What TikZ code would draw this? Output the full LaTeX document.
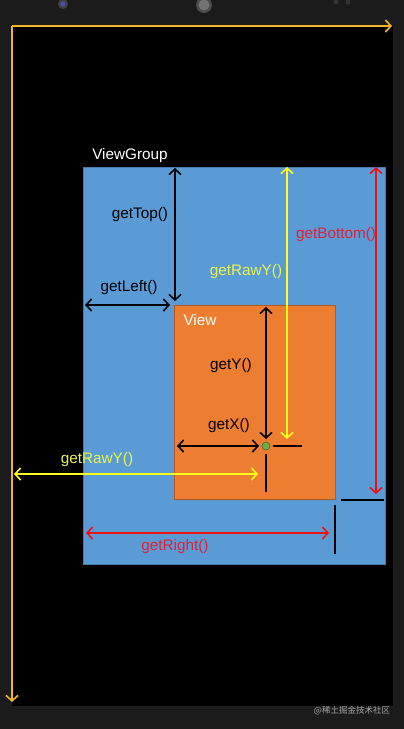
\documentclass[tikz,border=0pt]{standalone}
\usepackage{fontspec}
\setmainfont{Liberation Sans}
\newfontfamily\cjk{Noto Sans CJK SC}
\usetikzlibrary{arrows.meta}
\definecolor{bezel}{HTML}{1B1B1B}
\definecolor{axis}{HTML}{F2B626}
\definecolor{vgblue}{HTML}{5B9BD5}
\definecolor{vorange}{HTML}{ED7D31}
\definecolor{vborder}{HTML}{AE5A21}
\definecolor{rawyel}{HTML}{FFFF1A}
\definecolor{rawtxt}{HTML}{E8F54A}
\definecolor{redarr}{HTML}{F01010}
\definecolor{redtxt}{HTML}{E0203A}
\definecolor{dotgreen}{HTML}{70AD47}
\tikzset{
  mytip/.tip={Straight Barb[length=5.5pt,width=12pt,line width=1.6pt]},
  dim/.style={line width=1.8pt,mytip-mytip},
  blk/.style={dim,draw=black},
  yel/.style={dim,draw=rawyel},
  red/.style={dim,draw=redarr},
  axisline/.style={line width=1.8pt,draw=axis,-mytip},
  plain/.style={line width=1.8pt,draw=black},
  lbl/.style={font=\fontsize{15.3}{17}\selectfont,inner sep=0pt},
}
\begin{document}
\begin{tikzpicture}[x=1pt,y=-1pt]
\useasboundingbox (0,0) rectangle (404,729);
\fill[bezel] (0,0) rectangle (404,729);
\fill[black] (12,26) rectangle (393,706);
% phone top details
\fill[black!75] (63,4) circle (5);
\fill[blue!40!gray] (63,4) circle (2.5);
\fill[black!70] (204,5) circle (8);
\fill[black!55] (204,5) circle (5.5);
\fill[black!80] (336,2) circle (2.5);
\fill[black!80] (348,2) circle (2.5);
% axes
\coordinate (O) at (12,26);
\coordinate (Xend) at (392,26);
\coordinate (Yend) at (12,702);
\draw[axisline] (O) -- (Xend);
\draw[axisline] (O) -- (Yend);
% ViewGroup
\node[fill=vgblue,draw=vgblue!80!black,line width=0.6pt,minimum width=302pt,minimum height=397pt,inner sep=0pt,anchor=north west] (vg) at (83,167) {};
\node[lbl,text=white] (vglbl) at (130,156) {ViewGroup};
% View
\node[fill=vorange,draw=vborder,line width=0.8pt,minimum width=161pt,minimum height=194pt,inner sep=0pt,anchor=north west] (v) at (174,305) {};
\node[lbl,text=white] (vlbl) at (200,320) {View};
% coordinates
\coordinate (topA) at (175,168);
\coordinate (topB) at (175,301);
\coordinate (leftA) at (85,305);
\coordinate (leftB) at (170,305);
\coordinate (yA) at (266,307);
\coordinate (yB) at (266,439);
\coordinate (xA) at (177,446);
\coordinate (xB) at (259,446);
\coordinate (ryA) at (287,167);
\coordinate (ryB) at (287,439);
\coordinate (bA) at (376,167);
\coordinate (bB) at (376,494);
\coordinate (rxA) at (14,474);
\coordinate (rxB) at (258,474);
\coordinate (rA) at (86,533);
\coordinate (rB) at (329,533);
% dimension arrows
\draw[blk] (topA) -- (topB);
\node[lbl] (ltop) at (140,215) {getTop()};
\draw[blk] (leftA) -- (leftB);
\node[lbl] (lleft) at (129,288) {getLeft()};
\draw[blk] (yA) -- (yB);
\node[lbl] (ly) at (231,366) {getY()};
\draw[blk] (xA) -- (xB);
\node[lbl] (lx) at (229,426) {getX()};
\draw[yel] (ryA) -- (ryB);
\node[lbl,text=rawtxt] (lry) at (246,272) {getRawY()};
\draw[red] (bA) -- (bB);
\node[lbl,text=redtxt] (lb) at (336,235) {getBottom()};
\draw[yel] (rxA) -- (rxB);
\node[lbl,text=rawtxt] (lrx) at (97,460) {getRawY()};
\draw[red] (rA) -- (rB);
\node[lbl,text=redtxt] (lr) at (175,547) {getRight()};
% touch point and corner marks
\node[circle,fill=dotgreen,draw=dotgreen!60!black,line width=0.6pt,minimum size=8pt,inner sep=0pt] (dot) at (266,446) {};
\coordinate (h1) at (273,446); \coordinate (h2) at (302,446);
\coordinate (v1) at (266,454); \coordinate (v2) at (266,492);
\draw[plain] (h1) -- (h2);
\draw[plain] (v1) -- (v2);
\coordinate (c1) at (341,500); \coordinate (c2) at (384,500);
\coordinate (c3) at (335,505); \coordinate (c4) at (335,554);
\draw[plain] (c1) -- (c2);
\draw[plain] (c3) -- (c4);
% watermark
\node[font=\cjk\fontsize{8.5}{10}\selectfont,text=gray!70,inner sep=0pt] (wm) at (352,711) {@稀土掘金技术社区};
\end{tikzpicture}
\end{document}
